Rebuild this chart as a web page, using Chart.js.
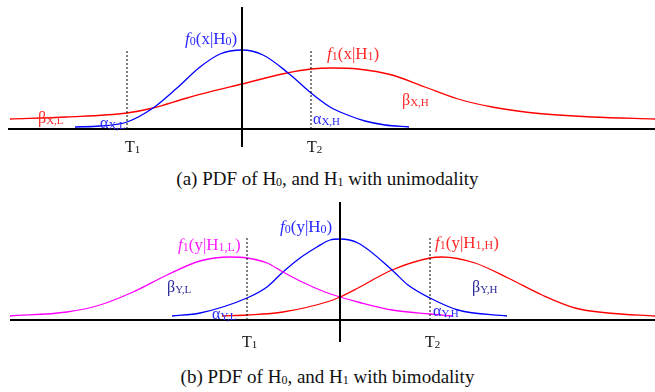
<!DOCTYPE html>
<html>
<head>
<meta charset="utf-8">
<script src="https://cdn.jsdelivr.net/npm/chart.js@4.4.1/dist/chart.umd.min.js"></script>
<style>
    body { margin: 0; background: #fff; width: 655px; height: 392px; position: relative; overflow: hidden; font-family: 'Liberation Serif', 'Times New Roman', serif; }
    canvas { position: absolute; left: 0; }
    #chartA { top: 0; }
    #chartB { top: 190px; }
    .caption { position: absolute; left: 0; width: 655px; text-align: center; font-size: 19px; line-height: 20px; color: #111; }
    .caption sub { font-size: 12px; vertical-align: baseline; position: relative; top: 1px; }
</style>
</head>
<body>
<canvas id="chartA" width="655" height="160"></canvas>
<div class="caption" style="top:169px">(a) PDF of H<sub>0</sub>, and H<sub>1</sub> with unimodality</div>
<canvas id="chartB" width="655" height="165"></canvas>
<div class="caption" style="top:367px">(b) PDF of H<sub>0</sub>, and H<sub>1</sub> with bimodality</div>

<script>
// --- Data (a): unimodal ---
const xF0a = [-3.34, -2.84, -2.30, -1.78, -1.30, -0.84, -0.44, 0, 0.42, 0.90, 1.38, 1.76, 2.06, 2.46, 2.86, 3.34];
const yF0a = [0.02, 0.03, 0.07, 0.21, 0.41, 0.62, 0.75, 0.79, 0.74, 0.57, 0.36, 0.22, 0.15, 0.08, 0.04, 0.02];
const xF1a = [-4.64, -3.50, -2.30, -1.78, -1.10, 0, 0.90, 1.38, 1.80, 2.32, 3.00, 3.66, 4.32, 5.00, 5.66, 6.32, 7.00, 8.26];
const yF1a = [0.10, 0.12, 0.16, 0.21, 0.31, 0.45, 0.56, 0.60, 0.61, 0.60, 0.54, 0.42, 0.30, 0.22, 0.17, 0.14, 0.12, 0.10];
const thresholdsA = [-2.30, 1.38];

// --- Data (b): bimodal ---
const xF1Lb = [-6.6, -5.46, -4.8, -4.14, -3.46, -2.8, -2.2, -1.86, -1.46, -1.14, -0.8, -0.3, 0, 0.36, 1.04, 1.8, 2.26];
const yF1Lb = [0.04, 0.08, 0.15, 0.28, 0.45, 0.59, 0.63, 0.62, 0.57, 0.48, 0.39, 0.28, 0.23, 0.18, 0.10, 0.06, 0.04];
const xF0b = [-3.36, -2.8, -1.86, -1.46, -1.14, -0.8, -0.46, -0.2, 0, 0.36, 1.04, 1.36, 1.8, 2.36, 3.34];
const yF0b = [0.04, 0.07, 0.22, 0.33, 0.48, 0.62, 0.73, 0.80, 0.81, 0.77, 0.50, 0.35, 0.22, 0.10, 0.04];
const xF1Hb = [-2.36, -1.86, -1.14, -0.2, 0, 0.36, 1.04, 1.8, 2.04, 2.7, 3.36, 4.04, 4.7, 5.36, 6.3];
const yF1Hb = [0.04, 0.05, 0.08, 0.19, 0.23, 0.32, 0.50, 0.62, 0.63, 0.57, 0.42, 0.25, 0.12, 0.07, 0.04];
const thresholdsB = [-1.86, 1.80];

// --- Text labels: [markup, x, y, colour, size] (markup: *italic*, [subscript]) ---
const labelsA = [
    ['*f*[0](x|H[0])', -1.14, 0.85, '#2a2aff', 17],
    ['*f*[1](x|H[1])', 1.70, 0.70, '#ff2a2a', 17],
    ['β[X,H]', 3.20, 0.24, '#ff2a2a', 16],
    ['β[X,L]', -4.08, 0.06, '#ff2a2a', 16],
    ['α[X,L]', -2.84, 0.01, '#2a2aff', 16],
    ['α[X,H]', 1.42, 0.05, '#2a2aff', 16],
    ['T[1]', -2.34, -0.23, '#111', 16],
    ['T[2]', 1.30, -0.23, '#111', 16]
];
const labelsB = [
    ['*f*[1](y|H[1,L])', -3.24, 0.70, '#ff22ff', 17],
    ['*f*[0](y|H[0])', -1.20, 0.88, '#2a2aff', 17],
    ['*f*[1](y|H[1,H])', 1.90, 0.72, '#ff2a2a', 17],
    ['β[Y,L]', -3.46, 0.28, '#2a2a99', 16],
    ['β[Y,H]', 2.64, 0.28, '#2a2a99', 16],
    ['α[Y,L]', -2.56, 0.01, '#2a2aff', 16],
    ['α[Y,H]', 1.86, 0.04, '#2a2aff', 16],
    ['T[1]', -1.96, -0.27, '#111', 16],
    ['T[2]', 1.70, -0.27, '#111', 16]
];

const FONT = "'Liberation Serif', 'Times New Roman', serif";
const toPts = (xs, ys) => xs.map((x, i) => ({ x, y: ys[i] }));

function drawRich(ctx, str, x, y, size, color) {
    const subSize = Math.round(size * 0.7);
    const parts = str.split(/(\*[^*]+\*|\[[^\]]+\])/).filter(Boolean);
    let cx = x;
    ctx.fillStyle = color;
    ctx.textBaseline = 'alphabetic';
    ctx.textAlign = 'left';
    parts.forEach(p => {
        let text = p, dy = 0;
        if (p[0] === '*') { text = p.slice(1, -1); ctx.font = `italic ${size}px ${FONT}`; }
        else if (p[0] === '[') { text = p.slice(1, -1); ctx.font = `${subSize}px ${FONT}`; dy = 1; }
        else ctx.font = `${size}px ${FONT}`;
        ctx.fillText(text, cx, y + dy);
        cx += ctx.measureText(text).width;
    });
}

const labelPlugin = {
    id: 'richLabels',
    afterDatasetsDraw(chart, args, opts) {
        const { ctx, scales: { x, y } } = chart;
        ctx.save();
        opts.items.forEach(([txt, lx, ly, col, size]) => {
            drawRich(ctx, txt, x.getPixelForValue(lx), y.getPixelForValue(ly), size, col);
        });
        ctx.restore();
    }
};

function curve(pts, color) {
    return { data: pts, borderColor: color, borderWidth: 1.3, pointRadius: 0, showLine: true, cubicInterpolationMode: 'monotone', fill: false };
}
function rule(pts, dashed) {
    return { data: pts, borderColor: '#000', borderWidth: dashed ? 1 : 2, borderDash: dashed ? [2, 2] : [], pointRadius: 0, showLine: true, tension: 0 };
}

function makeChart(id, datasets, xr, yr, labels) {
    return new Chart(document.getElementById(id), {
        type: 'scatter',
        data: { datasets },
        options: {
            responsive: false,
            animation: false,
            devicePixelRatio: 1,
            layout: { padding: 0 },
            plugins: { legend: { display: false }, tooltip: { enabled: false }, richLabels: { items: labels } },
            scales: {
                x: { type: 'linear', display: false, min: xr[0], max: xr[1] },
                y: { type: 'linear', display: false, min: yr[0], max: yr[1] }
            }
        },
        plugins: [labelPlugin]
    });
}

// Panel (a)
makeChart('chartA', [
    rule([{ x: -4.68, y: 0 }, { x: 8.26, y: 0 }]),
    rule([{ x: 0, y: 1.22 }, { x: 0, y: -0.18 }]),
    ...thresholdsA.map(t => rule([{ x: t, y: 0 }, { x: t, y: 0.80 }], true)),
    curve(toPts(xF0a, yF0a), '#0000ff'),
    curve(toPts(xF1a, yF1a), '#ff0000')
], [-4.84, 8.26], [-0.31, 1.29], labelsA);

// Panel (b)
makeChart('chartB', [
    rule([{ x: -6.6, y: 0 }, { x: 6.3, y: 0 }]),
    rule([{ x: 0, y: 1.18 }, { x: 0, y: -0.22 }]),
    ...thresholdsB.map(t => rule([{ x: t, y: 0 }, { x: t, y: 0.82 }], true)),
    curve(toPts(xF1Lb, yF1Lb), '#ff00ff'),
    curve(toPts(xF0b, yF0b), '#0000ff'),
    curve(toPts(xF1Hb, yF1Hb), '#ff0000')
], [-6.8, 6.3], [-0.35, 1.30], labelsB);
</script>
</body>
</html>
